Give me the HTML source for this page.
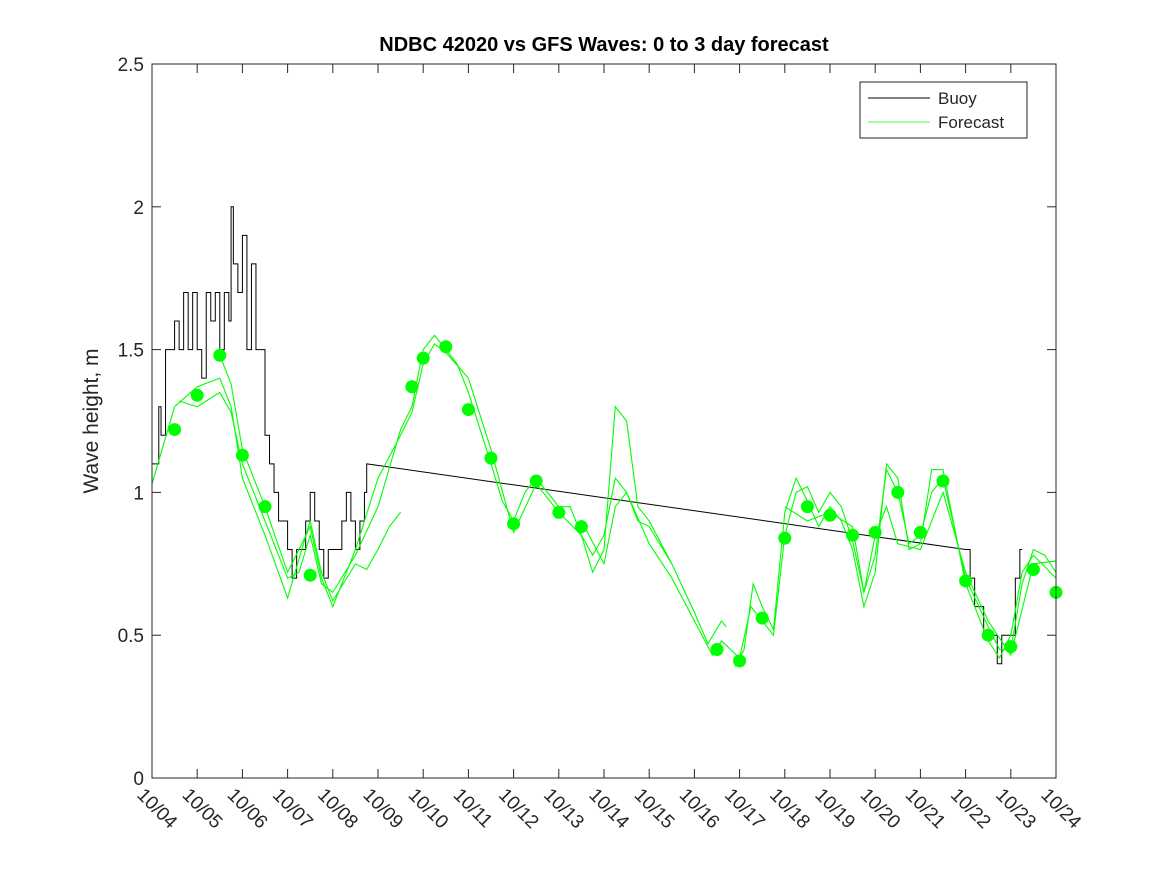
<!DOCTYPE html>
<html><head><meta charset="utf-8"><style>
body{margin:0;background:#fff}
svg{display:block;font-family:"Liberation Sans",sans-serif}
</style></head><body>
<svg id="chart" width="1167" height="875">
<rect x="0" y="0" width="1167" height="875" fill="#fff"/>
<text x="604" y="51" text-anchor="middle" font-size="20" font-weight="bold" fill="#000">NDBC 42020 vs GFS Waves: 0 to 3 day forecast</text>
<text transform="translate(98,421) rotate(-90)" text-anchor="middle" font-size="21" fill="#262626">Wave height, m</text>
<g id="plot"></g>
<g id="axes"></g>
<g>
<rect x="860" y="82" width="167" height="56" fill="#fff" stroke="#262626" stroke-width="1"/>
<line x1="868" y1="98" x2="930" y2="98" stroke="#000"/>
<text x="938" y="104" font-size="17" fill="#262626">Buoy</text>
<line x1="868" y1="122" x2="930" y2="122" stroke="#00ff00" stroke-width="0.8"/>
<text x="938" y="128" font-size="17" fill="#262626">Forecast</text>
</g>
</svg>
<script>
const xTicks=["10/04","10/05","10/06","10/07","10/08","10/09","10/10","10/11","10/12","10/13","10/14","10/15","10/16","10/17","10/18","10/19","10/20","10/21","10/22","10/23","10/24"];
const yTicks=[0,0.5,1,1.5,2,2.5];
const buoyDays=[0,0.1,0.15,0.2,0.3,0.5,0.6,0.7,0.8,0.9,1,1.1,1.2,1.3,1.4,1.5,1.6,1.7,1.75,1.8,1.9,2,2.1,2.2,2.3,2.5,2.6,2.7,2.8,3,3.1,3.2,3.4,3.5,3.6,3.7,3.8,3.9,4,4.2,4.3,4.4,4.5,4.6,4.7,4.75,18,18.1,18.2,18.4,18.5,18.7,18.8,19,19.1,19.2,19.25];
const buoyVals=[1.1,1.1,1.3,1.2,1.5,1.6,1.5,1.7,1.5,1.7,1.5,1.4,1.7,1.6,1.7,1.5,1.7,1.6,2.0,1.8,1.7,1.9,1.5,1.8,1.5,1.2,1.1,1.0,0.9,0.8,0.7,0.8,0.9,1.0,0.9,0.8,0.7,0.8,0.8,0.9,1.0,0.9,0.8,0.9,1.0,1.1,0.8,0.7,0.6,0.5,0.5,0.4,0.5,0.5,0.7,0.8,0.8];
const fcA_d=[0.6,1,1.5,1.75,2,2.5,3,3.25,3.5,3.75,4,4.5,5,5.5,5.75,6,6.25,6.5,6.75,7,7.5,7.75,8,8.25,8.5,8.75,9,9.25,9.5,9.75,10,10.25,10.5,10.75,11,11.5];
const fcA_v=[1.32,1.3,1.35,1.28,1.1,0.9,0.7,0.72,0.85,0.68,0.65,0.78,0.95,1.22,1.3,1.5,1.55,1.5,1.45,1.35,1.1,0.97,0.9,1.0,1.05,1.0,0.95,0.95,0.85,0.78,0.85,1.05,1.0,0.9,0.88,0.75];
const fcB_d=[0,0.5,1,1.5,1.75,2,2.5,3,3.5,3.75,4,4.5,4.75,5,5.25,5.5];
const fcB_v=[1.03,1.3,1.37,1.4,1.3,1.05,0.85,0.63,0.9,0.72,0.62,0.75,0.73,0.8,0.88,0.93];
const fcC_d=[1.5,1.75,2,2.5,3,3.5,3.75,4,4.5,5,5.5,5.75,6,6.25,6.5,7,7.5,8,8.5,9,9.5,9.75,10,10.25,10.5,10.75,11,11.5,12,12.3,12.6,12.7];
const fcC_v=[1.48,1.38,1.15,0.95,0.72,0.88,0.7,0.6,0.8,1.05,1.2,1.28,1.45,1.52,1.49,1.4,1.15,0.86,1.03,0.93,0.85,0.72,0.8,1.3,1.25,0.95,0.9,0.75,0.58,0.47,0.55,0.53];
const fcD_d=[9.5,10,10.25,10.5,11,11.5,12,12.4,12.6,13,13.25,13.5,13.75,14,14.25,14.5,14.75,15,15.25,15.5,15.75,16,16.25,16.5,16.75,17,17.25,17.5,18,18.5,18.75,19,19.25,19.5,19.75,20];
const fcD_v=[0.9,0.75,0.95,1.0,0.82,0.7,0.55,0.43,0.48,0.42,0.6,0.55,0.5,0.85,1.0,1.02,0.93,1.0,0.95,0.83,0.65,0.78,1.08,1.0,0.82,0.85,1.0,1.05,0.7,0.53,0.45,0.45,0.68,0.8,0.78,0.72];
const fcE_d=[12.9,13.1,13.3,13.5,13.75,14,14.25,14.5,14.75,15,15.25,15.5,15.75,16,16.25,16.5,16.75,17,17.25,17.5,18,18.5,18.75,19,19.25,19.5,20];
const fcE_v=[0.39,0.45,0.68,0.6,0.52,0.93,1.05,0.97,0.88,0.95,0.9,0.8,0.6,0.72,1.1,1.05,0.8,0.82,1.08,1.08,0.68,0.48,0.42,0.5,0.72,0.78,0.7];
const fcF_d=[14,14.5,15,15.5,15.75,16,16.25,16.5,17,17.5,18,18.5,19,19.5,20];
const fcF_v=[0.95,0.9,0.93,0.88,0.65,0.85,0.95,0.82,0.8,1.0,0.72,0.55,0.43,0.75,0.76];
const dotDays=[0.5,1,1.5,2,2.5,3.5,5.75,6,6.5,7,7.5,8,8.5,9,9.5,12.5,13,13.5,14,14.5,15,15.5,16,16.5,17,17.5,18,18.5,19,19.5,20];
const dotVals=[1.22,1.34,1.48,1.13,0.95,0.71,1.37,1.47,1.51,1.29,1.12,0.89,1.04,0.93,0.88,0.45,0.41,0.56,0.84,0.95,0.92,0.85,0.86,1.0,0.86,1.04,0.69,0.5,0.46,0.73,0.65];

const X0=152,X1=1056,Y0=778,Y1=64;
const xs=d=>X0+(X1-X0)*d/20;
const ys=v=>Y0-(Y0-Y1)*v/2.5;
const NS="http://www.w3.org/2000/svg";
const plot=document.getElementById('plot'),axes=document.getElementById('axes');
function mk(tag,attrs,parent){const e=document.createElementNS(NS,tag);for(const k in attrs)e.setAttribute(k,attrs[k]);parent.appendChild(e);return e;}

let bd="";
for(let i=0;i<buoyDays.length;i++){const x=xs(buoyDays[i]),y=ys(buoyVals[i]);
 if(i===0)bd+="M"+x+" "+y;else if(buoyDays[i]-buoyDays[i-1]>1)bd+=" L"+x+" "+y;else bd+=" L"+x+" "+ys(buoyVals[i-1])+" L"+x+" "+y;}
const bl=mk('path',{d:bd,fill:'none',stroke:'#000','stroke-width':1},plot);



const series=[[fcA_d,fcA_v],[fcB_d,fcB_v],[fcC_d,fcC_v],[fcD_d,fcD_v],[fcE_d,fcE_v],[fcF_d,fcF_v]];
series.forEach((s,k)=>{
 const p=s[0].map((d,i)=>(i?"L":"M")+xs(d)+" "+ys(s[1][i])).join(" ");
 const e=mk('path',{d:p,fill:'none',stroke:'#00ff00','stroke-width':1.1},plot);
 
 
});
dotDays.forEach((d,i)=>{
 const c=mk('circle',{cx:xs(d),cy:ys(dotVals[i]),r:6.5,fill:'#00ff00'},plot);
 
 
});

const box=mk('rect',{x:X0,y:Y1,width:X1-X0,height:Y0-Y1,fill:'none',stroke:'#262626','stroke-width':1},axes);


yTicks.forEach(v=>{
 const y=ys(v);
 mk('line',{x1:X0,y1:y,x2:X0+9,y2:y,stroke:'#262626'},axes);
 mk('line',{x1:X1,y1:y,x2:X1-9,y2:y,stroke:'#262626'},axes);
 const t=mk('text',{x:X0-8,y:y+7,'text-anchor':'end','font-size':19,fill:'#262626'},axes);
 t.textContent=String(v);
 
 
});
xTicks.forEach((lab,i)=>{
 const x=xs(i);
 mk('line',{x1:x,y1:Y0,x2:x,y2:Y0-9,stroke:'#262626'},axes);
 mk('line',{x1:x,y1:Y1,x2:x,y2:Y1+9,stroke:'#262626'},axes);
 const t=mk('text',{x:0,y:0,transform:`translate(${x-16},${Y0+18}) rotate(45)`,'font-size':19,fill:'#262626'},axes);
 t.textContent=lab;
 
 
});
</script>
</body></html>
